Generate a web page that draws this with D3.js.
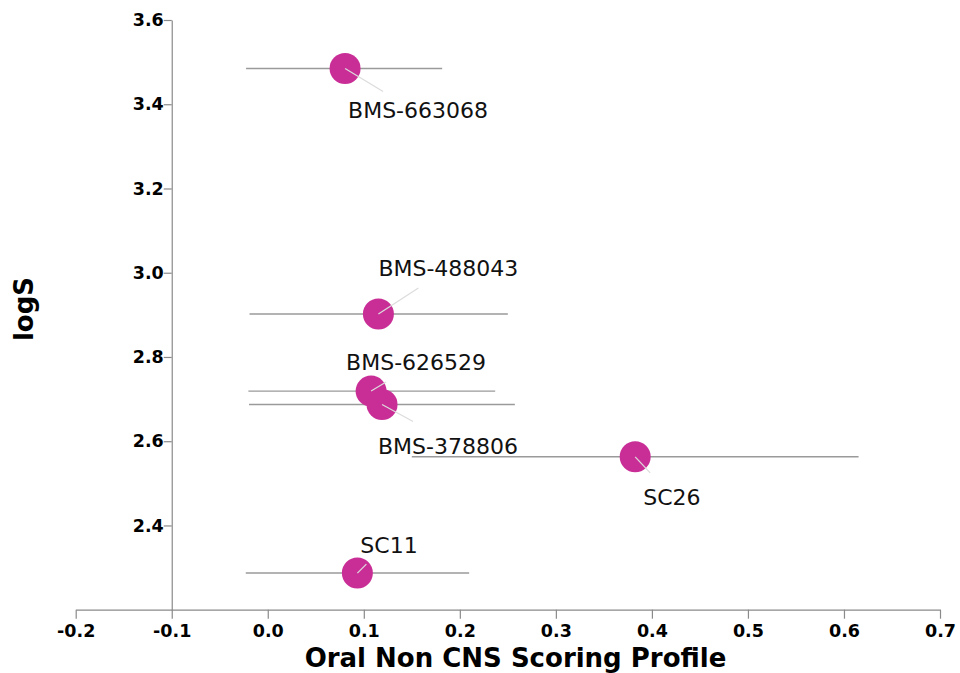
<!DOCTYPE html>
<html>
<head>
<meta charset="utf-8">
<script src="https://cdn.jsdelivr.net/npm/d3@7"></script>
<style>
  body { margin: 0; background: #fff; }
  svg { display: block; }
</style>
</head>
<body>
<svg id="viz" width="960" height="673"></svg>
<script>
// compounds, x = scoring profile, y = logS, with x error range
var compounds = ["BMS-663068", "BMS-488043", "BMS-626529", "BMS-378806", "SC26", "SC11"];
var scoreValues = [0.0805, 0.1152, 0.1076, 0.119, 0.3826, 0.0933];
var logSValues = [3.485, 2.902, 2.719, 2.687, 2.563, 2.287];
var scoreLow = [-0.0226, -0.019, -0.0202, -0.0195, 0.150, -0.0229];
var scoreHigh = [0.1816, 0.250, 0.2368, 0.2573, 0.6152, 0.2097];
var xTicks = [-0.2, -0.1, 0.0, 0.1, 0.2, 0.3, 0.4, 0.5, 0.6, 0.7];
var yTicks = [2.4, 2.6, 2.8, 3.0, 3.2, 3.4, 3.6];

// label placement (pixel offsets from point centre)
var labelOffsets = [[3, 42], [0, -46], [-25, -29], [-4, 42], [8, 40], [3, -28]];
var leaderEnds = [[38, 23], [40, -26], [15, -9], [31, 17], [15, 16], [9, -9]];

var svg = d3.select("#viz");
var x = d3.scaleLinear().domain([-0.2, 0.7]).range([75.7, 940]);
var y = d3.scaleLinear().domain([2.2, 3.6]).range([609.7, 20]);

var axisColor = "#8a8a8a";
var fmt = function(d) { return d3.format(".1f")(d).replace("\u2212", "-"); };

// x axis
var gx = svg.append("g")
    .attr("transform", "translate(0," + y(2.2) + ")")
    .call(d3.axisBottom(x).tickValues(xTicks).tickFormat(fmt).tickSize(9).tickSizeOuter(0));
gx.select(".domain").attr("stroke", axisColor).attr("stroke-width", 1.2);
gx.selectAll(".tick line").attr("stroke", axisColor).attr("stroke-width", 1.2);
gx.selectAll(".tick text")
    .attr("y", 15)
    .attr("font-family", "DejaVu Sans, Verdana, sans-serif")
    .attr("font-weight", "bold")
    .attr("font-size", "17.5px")
    .attr("fill", "#000");

// y axis at x = -0.1
var gy = svg.append("g")
    .attr("transform", "translate(" + x(-0.1) + ",0)")
    .call(d3.axisLeft(y).tickValues(yTicks).tickFormat(fmt).tickSize(8).tickSizeOuter(0));
gy.select(".domain").attr("stroke", axisColor).attr("stroke-width", 1.2);
gy.selectAll(".tick line").attr("stroke", axisColor).attr("stroke-width", 1.2);
gy.selectAll(".tick text")
    .attr("x", -8)
    .attr("font-family", "DejaVu Sans, Verdana, sans-serif")
    .attr("font-weight", "bold")
    .attr("font-size", "17.5px")
    .attr("fill", "#000");

// axis titles
svg.append("text")
    .attr("x", 515.5)
    .attr("y", 667)
    .attr("text-anchor", "middle")
    .attr("font-family", "DejaVu Sans, Verdana, sans-serif")
    .attr("font-weight", "bold")
    .attr("font-size", "26px")
    .text("Oral Non CNS Scoring Profile");

svg.append("text")
    .attr("transform", "translate(33,309) rotate(-90)")
    .attr("text-anchor", "middle")
    .attr("font-family", "DejaVu Sans, Verdana, sans-serif")
    .attr("font-weight", "bold")
    .attr("font-size", "26px")
    .text("logS");

var idx = d3.range(compounds.length);

// error bars
svg.selectAll(".err")
    .data(idx)
    .enter()
    .append("line")
        .attr("class", "err")
        .attr("x1", function(i) { return x(scoreLow[i]); })
        .attr("x2", function(i) { return x(scoreHigh[i]); })
        .attr("y1", function(i) { return y(logSValues[i]); })
        .attr("y2", function(i) { return y(logSValues[i]); })
        .attr("stroke", "#9a9a9a")
        .attr("stroke-width", 1.4);

// points
svg.selectAll(".pt")
    .data(idx)
    .enter()
    .append("circle")
        .attr("class", "pt")
        .attr("cx", function(i) { return x(scoreValues[i]); })
        .attr("cy", function(i) { return y(logSValues[i]); })
        .attr("r", 15.5)
        .attr("fill", "#c92e96");

// leader lines
svg.selectAll(".leader")
    .data(idx)
    .enter()
    .append("line")
        .attr("class", "leader")
        .attr("x1", function(i) { return x(scoreValues[i]); })
        .attr("y1", function(i) { return y(logSValues[i]); })
        .attr("x2", function(i) { return x(scoreValues[i]) + leaderEnds[i][0]; })
        .attr("y2", function(i) { return y(logSValues[i]) + leaderEnds[i][1]; })
        .attr("stroke", "#dcdcdc")
        .attr("stroke-width", 1.2);

// labels
svg.selectAll(".lbl")
    .data(idx)
    .enter()
    .append("text")
        .attr("class", "lbl")
        .attr("x", function(i) { return x(scoreValues[i]) + labelOffsets[i][0]; })
        .attr("y", function(i) { return y(logSValues[i]) + labelOffsets[i][1]; })
        .attr("dy", "0.36em")
        .attr("font-family", "DejaVu Sans, Verdana, sans-serif")
        .attr("font-size", "22px")
        .attr("fill", "#111")
        .text(function(i) { return compounds[i]; });
</script>
</body>
</html>
